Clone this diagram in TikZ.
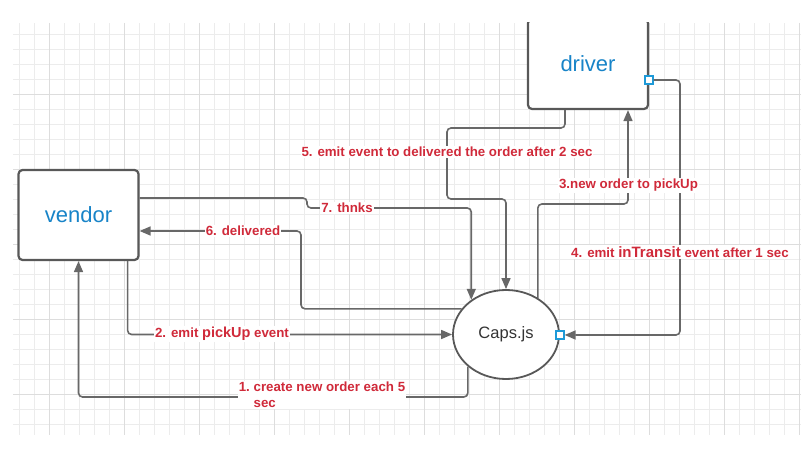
\documentclass[tikz,border=0pt]{standalone}
\usepackage{fontspec}
\setmainfont{Liberation Sans}
\usepackage{tikz}
\usetikzlibrary{arrows.meta,positioning,calc,shapes.geometric}
\definecolor{gridminor}{RGB}{236,236,236}
\definecolor{gridmajor}{RGB}{221,221,221}
\definecolor{boxline}{RGB}{88,88,88}
\definecolor{linegray}{RGB}{104,104,104}
\definecolor{boxblue}{RGB}{24,132,200}
\definecolor{portblue}{RGB}{30,154,216}
\definecolor{lblred}{RGB}{208,42,58}
\definecolor{capstext}{RGB}{51,51,51}

\begin{document}
\begin{tikzpicture}[x=1pt, y=-1pt,
  block/.style={draw=boxline, line width=2.2pt, rounded corners=4pt, fill=white, minimum width=120pt, minimum height=90pt, text=boxblue, font=\fontsize{22}{26}\selectfont},
  port/.style={draw=portblue, line width=1.3pt, fill=white, minimum size=8pt, inner sep=0pt},
  conn/.style={draw=linegray, line width=1.6pt, rounded corners=4pt, -{Triangle[length=11pt,width=9pt]}},
  lbl/.style={fill=white, inner sep=1pt, text=lblred, font=\fontsize{13.3}{16}\selectfont\bfseries}]
\useasboundingbox (0,0) rectangle (809,457);
\begin{scope}
\clip (13,23) rectangle (801,435);
% grid
\foreach \gx in {19.5,34.5,...,799.5} \draw[gridminor, line width=1pt] (\gx,23) -- (\gx,435);
\foreach \gy in {34.5,49.5,...,424.5} \draw[gridminor, line width=1pt] (13,\gy) -- (801,\gy);
\foreach \gx in {49.5,124.5,...,799.5} \draw[gridmajor, line width=1pt] (\gx,23) -- (\gx,435);
\foreach \gy in {94.5,169.5,...,394.5} \draw[gridmajor, line width=1pt] (13,\gy) -- (801,\gy);

\node[block] (vendor) at (78.5,215) {vendor};
\node[block] (driver) at (588,64) {driver};
\node[draw=boxline, line width=1.8pt, ellipse, fill=white, minimum width=106pt, minimum height=89pt, text=capstext, font=\fontsize{16.5}{20}\selectfont] (caps) at (506,334.5) {Caps.js};

\coordinate (k1) at (78.5,397);
\coordinate (k3) at (628,204);
\coordinate (k4) at (680,335);
\coordinate (k5a) at (447,128);
\coordinate (k5b) at (447,199);
\coordinate (k6) at (301,231);
\coordinate (k7) at (307,208);

\draw[conn] (caps.-140) |- (k1) -- (vendor.south);
\draw[conn] ([xshift=-12pt]vendor.south east) |- (caps.west);
\draw[conn] (caps.49) |- (k3) -- ([xshift=40pt]driver.south);
\draw[conn] ([xshift=-23pt]driver.south) |- (k5a) -- (k5b) -| (caps.north);
\draw[conn] (caps.150) -| (k6) -- ([yshift=-16pt]vendor.east);
\draw[conn] ([yshift=17pt]vendor.east) -| (k7) -| (caps.135);

\node[port] (drvport) at (649,80) {};
\node[port] (capsport) at (560,335) {};
\draw[conn] (drvport.east) -| (k4) -- (capsport.east);

% labels
\node[lbl, align=left] (l1) at (322,395) {1.\ create new order each 5\\\phantom{1.\ }sec};
\node[lbl] (l2) at (222,334) {2. emit {\fontsize{14.5}{16}\selectfont pickUp} event};
\node[lbl] (l3) at (628.5,185.5) {3.new order to pickUp};
\node[lbl] (l4) at (680,252) {4. emit {\fontsize{15}{16}\selectfont inTransit} event after 1 sec};
\node[lbl] (l5) at (447,152) {5. emit event to delivered the order after 2 sec};
\node[lbl] (l6) at (243,231) {6. delivered};
\node[lbl] (l7) at (347,208) {7. thnks};
\end{scope}
\end{tikzpicture}
\end{document}
